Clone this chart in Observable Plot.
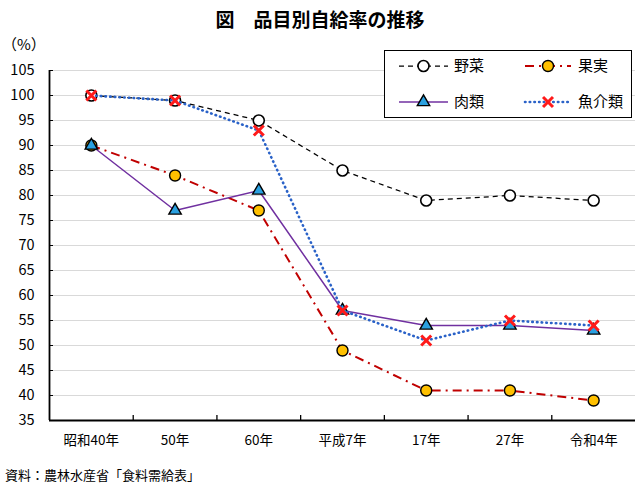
<!DOCTYPE html>
<html><head><meta charset="utf-8">
<script src="https://cdn.jsdelivr.net/npm/d3@7"></script>
<script src="https://cdn.jsdelivr.net/npm/@observablehq/plot@0.6"></script>
<style>
body{margin:0;background:#fff;font-family:"Noto Sans CJK JP","Noto Sans",sans-serif;}
#wrap{position:relative;width:640px;height:490px;overflow:hidden;}
#title{position:absolute;left:0;top:5px;width:640px;text-align:center;font-size:19px;font-weight:bold;}
#unit{position:absolute;left:2px;top:33px;font-size:15px;}
#chart{position:absolute;left:0;top:38px;}
#legend{position:absolute;left:384px;top:50px;width:248px;height:68px;border:1.5px solid #000;background:#fff;box-sizing:border-box;}
#caption{position:absolute;left:5px;top:465px;font-size:13px;}
</style></head>
<body><div id="wrap">
<div id="title">図　品目別自給率の推移</div>
<div id="unit">（%）</div>
<div id="chart"></div>
<div id="legend"></div>
<div id="caption">資料：農林水産省「食料需給表」</div>
</div>
<script>
const categories = ["昭和40年","50年","60年","平成7年","17年","27年","令和4年"];
const yasai   = [100, 99, 95, 85, 79, 80, 79];
const kajitsu = [90, 84, 77, 49, 41, 41, 39];
const niku    = [90, 77, 81, 57, 54, 54, 53];
const gyokai  = [100, 99, 93, 57, 51, 55, 54];
const yTicks  = [35,40,45,50,55,60,65,70,75,80,85,90,95,100,105];

const series = [
  {name:"野菜", values:yasai, stroke:"#000", width:1.25, dash:"5,4", cap:"butt",
   symbol:"circle", fill:"#fff", mstroke:"#000", r:5.5, msw:1.6},
  {name:"果実", values:kajitsu, stroke:"#c00000", width:2, dash:"9,5,2,5", cap:"butt",
   symbol:"circle", fill:"#ffc000", mstroke:"#000", r:5.5, msw:1.4},
  {name:"肉類", values:niku, stroke:"#7030a0", width:1.5, dash:null, cap:"butt",
   symbol:"triangle", fill:"#2aa0e0", mstroke:"#000", r:4.6, msw:1.4},
  {name:"魚介類", values:gyokai, stroke:"#2a62c8", width:2.6, dash:"0.5,4.2", cap:"round",
   symbol:"times", fill:"none", mstroke:"#ff1a1a", r:4.6, msw:3}
];

const idx = categories.map((c,i)=>i);
const bounds = idx.slice(0,-1).map(i=>i+0.5);

const marks = [
  Plot.ruleY(yTicks, {stroke:"#d9d9d9", strokeWidth:1.2}),
  Plot.axisY({ticks:yTicks, tickSize:0, tickPadding:15, fontSize:14.5, label:null}),
  Plot.axisY({ticks:yTicks, tickSize:-4, tickFormat:()=>"", stroke:"#000", label:null}),
  Plot.axisX({ticks:idx, tickFormat:i=>categories[i], tickSize:0, tickPadding:15, fontSize:13.5, label:null}),
  Plot.axisX({ticks:bounds, tickSize:-5, tickFormat:()=>"", stroke:"#000", strokeWidth:1.3, label:null}),
  Plot.ruleX([-0.5], {stroke:"#000", strokeWidth:1.8}),
  Plot.ruleY([35], {stroke:"#000", strokeWidth:1.8})
];
for (const s of series) {
  const data = s.values.map((v,i)=>({i, v}));
  marks.push(Plot.line(data, {x:"i", y:"v", stroke:s.stroke, strokeWidth:s.width,
    strokeDasharray:s.dash, strokeLinecap:s.cap}));
  marks.push(Plot.dot(data, {x:"i", y:"v", symbol:s.symbol, r:s.r, fill:s.fill,
    stroke:s.mstroke, strokeWidth:s.msw}));
}

const chart = Plot.plot({
  width:640, height:422,
  marginTop:32, marginLeft:49, marginRight:5, marginBottom:40,
  style:{fontFamily:'"Noto Sans CJK JP","Noto Sans",sans-serif', color:"#000", background:"transparent"},
  x:{type:"linear", domain:[-0.5, categories.length-0.5], axis:null, label:null},
  y:{domain:[35,105], axis:null, label:null},
  marks
});
document.getElementById("chart").appendChild(chart);

// legend
const lg = d3.select("#legend").append("svg").attr("width",245).attr("height",65)
  .style("display","block");
const pos = [{x0:14,x1:63,tx:69,y:15},{x0:140,x1:186,tx:193,y:15},{x0:14,x1:63,tx:69,y:51},{x0:140,x1:186,tx:193,y:51}];
const plotSymbols = {circle:d3.symbolCircle, triangle:d3.symbolTriangle, times:d3.symbolTimes};
series.forEach((s,k)=>{
  const p = pos[k];
  lg.append("line").attr("x1",p.x0).attr("x2",p.x1).attr("y1",p.y).attr("y2",p.y)
    .attr("stroke",s.stroke).attr("stroke-width",s.width)
    .attr("stroke-dasharray",s.dash).attr("stroke-linecap",s.cap);
  const area = Math.PI*s.r*s.r;
  lg.append("path").attr("d", d3.symbol(plotSymbols[s.symbol], area)())
    .attr("transform",`translate(${(p.x0+p.x1)/2},${p.y})`)
    .attr("fill",s.fill).attr("stroke",s.mstroke).attr("stroke-width",s.msw);
  lg.append("text").attr("x",p.tx).attr("y",p.y).attr("dy","0.36em")
    .attr("font-size",15).attr("font-family",'"Noto Sans CJK JP",sans-serif').text(s.name);
});
</script>
</body></html>
